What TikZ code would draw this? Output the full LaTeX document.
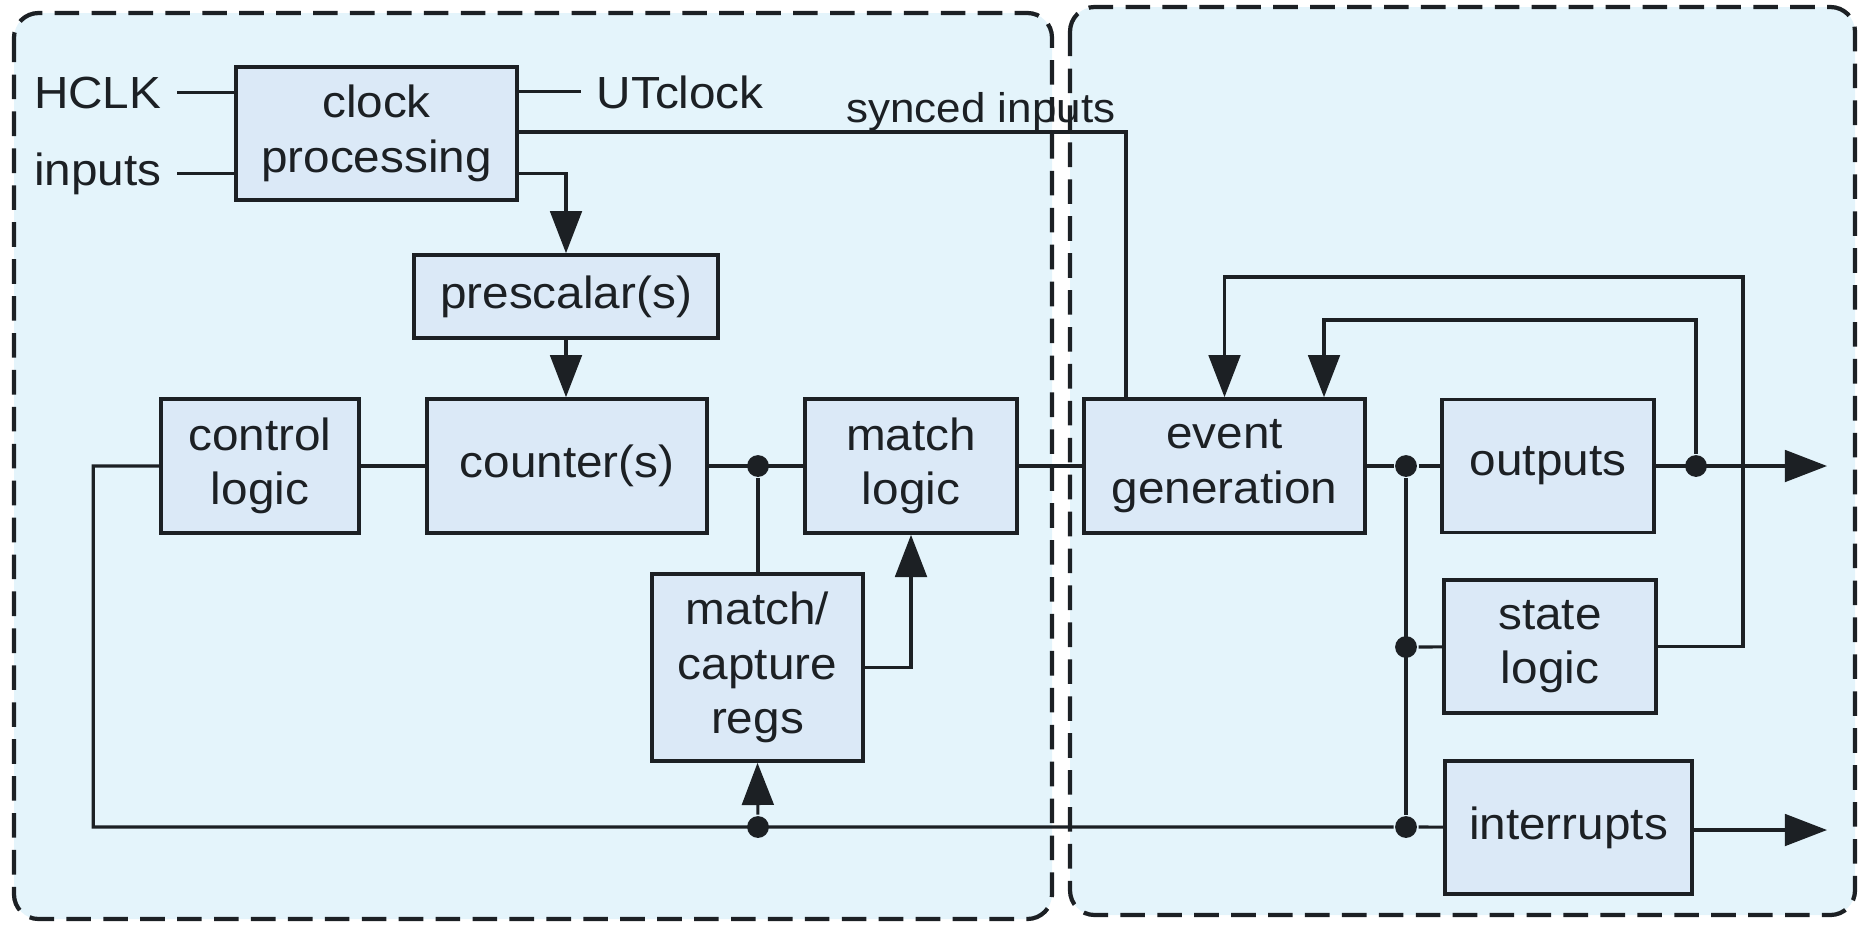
\documentclass[tikz,border=0pt]{standalone}
\usepackage{fontspec}
\setmainfont{Liberation Sans}[FakeStretch=1.06]
\usepackage{tikz}
\usetikzlibrary{arrows.meta}
\definecolor{panelbg}{RGB}{228,244,251}
\definecolor{blockbg}{RGB}{219,233,247}
\definecolor{wire}{RGB}{28,32,36}

\begin{document}
\begin{tikzpicture}[x=0.01cm, y=-0.01cm, color=wire, line width=0.9pt,
		txt/.style={font=\fontsize{12.8}{15.5}\selectfont},
		block/.style={txt, draw, fill=blockbg, line width=1pt, align=center, inner sep=0pt},
		lbl/.style={txt, inner sep=4pt},
		panel/.style={draw, fill=panelbg, line width=1.2pt, dash pattern=on 7pt off 3.5pt, rounded corners=7pt},
		jdot/.style={circle, fill, inner sep=0pt, minimum size=6.2pt},
		arr/.style={-{Triangle[length=12pt,width=9pt]}}]
				\useasboundingbox (0,0) rectangle (1870,924);
				% the two dashed regions
				\draw[panel] (14,13) rectangle (1052,919);
				\draw[panel] (1070,7) rectangle (1855,915);
				% blocks
				\node[block, minimum width=2.81cm, minimum height=1.33cm] (clk) at (376.5,133.5) {clock\\processing};
				\node[block, minimum width=3.04cm, minimum height=0.83cm] (pre) at (566,296.5) {prescalar(s)};
				\node[block, minimum width=1.98cm, minimum height=1.34cm] (ctl) at (260,466) {control\\logic};
				\node[block, minimum width=2.80cm, minimum height=1.34cm] (cnt) at (567,466) {counter(s)};
				\node[block, minimum width=2.12cm, minimum height=1.34cm] (mlog) at (911,466) {match\\logic};
				\node[block, minimum width=2.11cm, minimum height=1.87cm] (regs) at (757.5,667.5) {match/\\capture\\regs};
				\node[block, minimum width=2.81cm, minimum height=1.34cm] (evt) at (1224.5,466) {event\\generation};
				\node[block, minimum width=2.12cm, minimum height=1.33cm] (outp) at (1548,466) {outputs};
				\node[block, minimum width=2.12cm, minimum height=1.33cm] (state) at (1550,646.5) {state\\logic};
				\node[block, minimum width=2.47cm, minimum height=1.33cm] (intr) at (1568.5,827.5) {interrupts};
				% signal names
				\node[lbl, anchor=base east] (hclk) at (177,108) {HCLK};
				\node[lbl, anchor=base east] (inp) at (177,185) {inputs};
				\node[lbl, anchor=base west] (ut) at (581,108) {UTclock};
				\node[lbl, anchor=base east, font=\fontsize{11.8}{14}\selectfont] (synlbl) at (1131,122) {synced inputs};
				% junctions and bends
				\node[jdot] (j1) at (758,466) {};
				\node[jdot] (j2) at (1406,466) {};
				\node[jdot] (j3) at (1406,647) {};
				\node[jdot] (j4) at (1406,827) {};
				\node[jdot] (j5) at (758,827) {};
				\node[jdot] (j6) at (1696,466) {};
				\coordinate (sync) at (1126,132);
				\coordinate (fb1) at (1324,320);
				\coordinate (fb2) at (1743,277);
				\coordinate (oend) at (1827,466);
				\coordinate (iend) at (1827,830);
				% clock side
				\draw (hclk.east) -- (hclk.east -| clk.west);
				\draw (inp.east) -- (inp.east -| clk.west);
				\draw (ut.west -| clk.east) -- (ut.west);
				\draw (sync -| clk.east) -- (sync) -- (sync |- evt.north);
				\draw[arr] (inp.east -| clk.east) -| (pre.north);
				\draw[arr] (pre.south) -- (pre.south |- cnt.north);
				% counter chain
				\draw (ctl) -- (cnt);
				\draw (cnt) -- (mlog);
				\draw (j1) -- (j1 |- regs.north);
				\draw[arr] (regs.east) -| (mlog.south);
				\draw (mlog) -- (evt);
				% loop back along the bottom
				\draw (ctl.west) -- ++(-66,0) |- (j4) -- (intr);
				\draw[arr] (j5) -- (regs.south);
				% event fan-out
				\draw (evt) -- (j2) -- (outp);
				\draw (j2) -- (j4);
				\draw (j3) -- (state);
				\draw[arr] (outp.east) -- (oend);
				\draw[arr] (intr.east |- iend) -- (iend);
				% feedback into event generation
				\draw[arr] (j6) |- (fb1) -- (fb1 |- evt.north);
				\draw[arr] (state.east) -| (fb2) -| (evt.north);
			\end{tikzpicture}
\end{document}
